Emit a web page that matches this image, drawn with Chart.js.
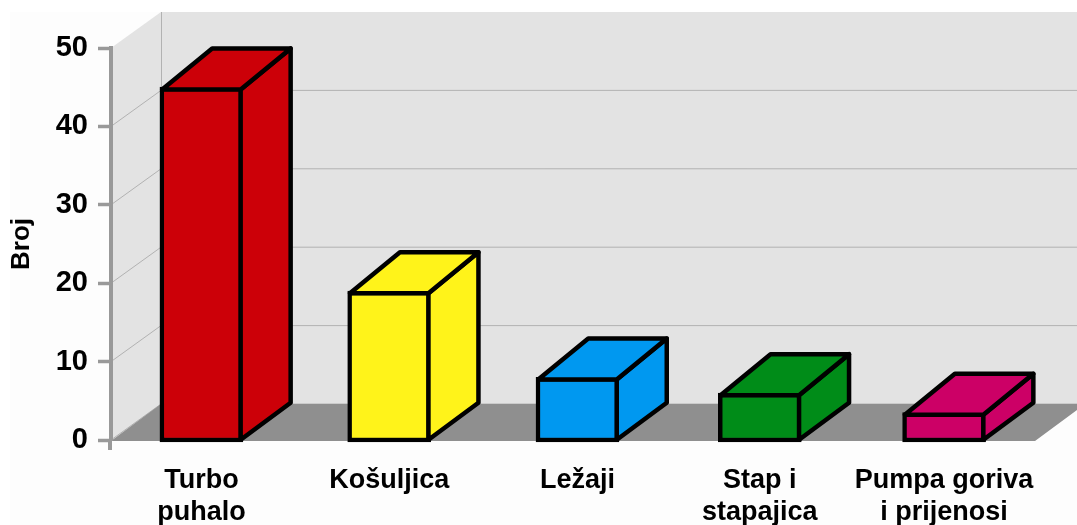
<!DOCTYPE html>
<html>
<head>
<meta charset="utf-8">
<title>Broj kvarova</title>
<script src="https://cdn.jsdelivr.net/npm/chart.js@4"></script>
<style>
    html, body { margin: 0; padding: 0; background: #fff; }
    canvas { display: block; }
</style>
</head>
<body>
<canvas id="kvarChart" width="1077" height="525"></canvas>
<script>
// Datos del grafico
const categorias = [['Turbo', 'puhalo'], ['Košuljica'], ['Ležaji'], ['Stap i', 'stapajica'], ['Pumpa goriva', 'i prijenosi']];
const valores = [45, 19, 8, 6, 3.5];
const coloresBarras = ['#cc0008', '#fff31a', '#0098f0', '#008c18', '#cc0066'];

// Paleta y perspectiva
const COLOR_PARED = '#e3e3e3';
const COLOR_SUELO = '#8f8f8f';
const COLOR_REJILLA = '#b2b2b2';
const COLOR_EJE = '#999999';
const FONDO_X = 50, FONDO_Y = 36;
const BARRA_X = 50, BARRA_TOP_Y = 41, BARRA_BASE_Y = 37;
const BORDE = 4.5;

// Las barras del original no estan a distancias iguales
const ajusteCentros = [-2, 1, 4.5, 2, 1.5];

class CategoriaAjustada extends Chart.CategoryScale {
    getPixelForValue(value, index) {
        const pixel = super.getPixelForValue(value, index);
        const i = typeof value === 'number' ? value : this.parse(value);
        return pixel + (ajusteCentros[i] || 0);
    }
}
CategoriaAjustada.id = 'categoriaAjustada';
CategoriaAjustada.defaults = Chart.CategoryScale.defaults;
Chart.register(CategoriaAjustada);

function poligono(ctx, puntos, relleno, trazo, ancho) {
    ctx.beginPath();
    puntos.forEach((p, i) => i ? ctx.lineTo(p[0], p[1]) : ctx.moveTo(p[0], p[1]));
    ctx.closePath();
    ctx.fillStyle = relleno;
    ctx.fill();
    if (trazo) {
        ctx.strokeStyle = trazo;
        ctx.lineWidth = ancho;
        ctx.lineJoin = 'round';
        ctx.stroke();
    }
}

// Pared, suelo y rejilla detras de ejes y barras
const escenario3d = {
    id: 'escenario3d',
    beforeDraw(chart) {
        const { ctx, canvas, chartArea: a, scales: { y } } = chart;
        const cero = y.getPixelForValue(0), tope = y.getPixelForValue(50);
        ctx.save();
        ctx.fillStyle = '#fdfdfd';
        ctx.fillRect(10, 12, canvas.width - 10, canvas.height - 12);

        // pared lateral y pared de fondo
        poligono(ctx, [[a.left, tope], [a.left + FONDO_X, tope - FONDO_Y], [canvas.width, tope - FONDO_Y],
            [canvas.width, cero - FONDO_Y], [a.left, cero]], COLOR_PARED);

        // lineas de rejilla (la de 50 no se ve en el original)
        ctx.strokeStyle = COLOR_REJILLA;
        ctx.lineWidth = 1;
        y.ticks.filter(t => t.value < 50).forEach(t => {
            const py = y.getPixelForValue(t.value);
            ctx.beginPath();
            ctx.moveTo(a.left, py);
            ctx.lineTo(a.left + FONDO_X, py - FONDO_Y);
            ctx.lineTo(canvas.width, py - FONDO_Y);
            ctx.stroke();
        });
        ctx.beginPath();
        ctx.moveTo(a.left + FONDO_X + 0.5, tope - FONDO_Y);
        ctx.lineTo(a.left + FONDO_X + 0.5, cero - FONDO_Y);
        ctx.stroke();

        // suelo
        poligono(ctx, [[a.left, cero + 1], [a.left + FONDO_X, cero - FONDO_Y], [canvas.width + 10, cero - FONDO_Y],
            [a.right + FONDO_X, cero - FONDO_Y], [a.right, cero + 1]], COLOR_SUELO);

        // prolongacion del eje bajo el cero
        ctx.strokeStyle = COLOR_EJE;
        ctx.lineWidth = 4;
        ctx.beginPath();
        ctx.moveTo(a.left - 1, a.bottom);
        ctx.lineTo(a.left - 1, a.bottom + 10);
        ctx.stroke();
        ctx.restore();
    },
    afterDatasetsDraw(chart) {
        const { ctx } = chart;
        ctx.save();

        // cara superior y lateral de cada barra
        chart.getDatasetMeta(0).data.forEach((barra, i) => {
            const { x, y, base, width } = barra.getProps(['x', 'y', 'base', 'width'], true);
            const izq = x - width / 2 + BORDE / 2, der = x + width / 2 - BORDE / 2;
            const arriba = y + BORDE / 2, abajo = base - BORDE / 2;
            poligono(ctx, [[der, arriba], [der + BARRA_X, arriba - BARRA_TOP_Y],
                [der + BARRA_X, abajo - BARRA_BASE_Y], [der, abajo]], coloresBarras[i], '#000', BORDE);
            poligono(ctx, [[izq, arriba], [izq + BARRA_X, arriba - BARRA_TOP_Y],
                [der + BARRA_X, arriba - BARRA_TOP_Y], [der, arriba]], coloresBarras[i], '#000', BORDE);
        });
        ctx.restore();
    }
};

new Chart(document.getElementById('kvarChart').getContext('2d'), {
    type: 'bar',
    data: {
        labels: categorias,
        datasets: [{
            label: 'Broj',
            data: valores,
            backgroundColor: coloresBarras,
            borderColor: '#000',
            borderWidth: BORDE,
            borderSkipped: false,
            barThickness: 83,
            base: -0.25,
            clip: false
        }]
    },
    options: {
        responsive: false,
        animation: false,
        layout: { padding: { left: 0, top: 48, right: 42, bottom: 0 } },
        plugins: { legend: { display: false }, tooltip: { enabled: false } },
        scales: {
            x: {
                type: 'categoriaAjustada',
                afterFit: scale => { scale.height = 85; },
                grid: { display: false },
                border: { display: false },
                ticks: {
                    color: '#000',
                    padding: 16,
                    maxRotation: 0,
                    autoSkip: false,
                    font: { family: '"Liberation Sans", Arial, sans-serif', size: 27, weight: 'bold', lineHeight: 1.2 }
                }
            },
            y: {
                min: 0,
                max: 50,
                afterFit: scale => { scale.width = 111; },
                grid: { drawOnChartArea: false, tickLength: 13, tickColor: COLOR_EJE, tickWidth: 3.5 },
                border: { color: COLOR_EJE, width: 4 },
                title: {
                    display: true,
                    text: 'Broj',
                    color: '#000',
                    padding: { top: 6, bottom: 0 },
                    font: { family: '"Liberation Sans", Arial, sans-serif', size: 26, weight: 'bold' }
                },
                ticks: {
                    stepSize: 10,
                    color: '#000',
                    padding: 10,
                    font: { family: '"Liberation Sans", Arial, sans-serif', size: 29, weight: 'bold' }
                }
            }
        }
    },
    plugins: [escenario3d]
});
</script>
</body>
</html>
